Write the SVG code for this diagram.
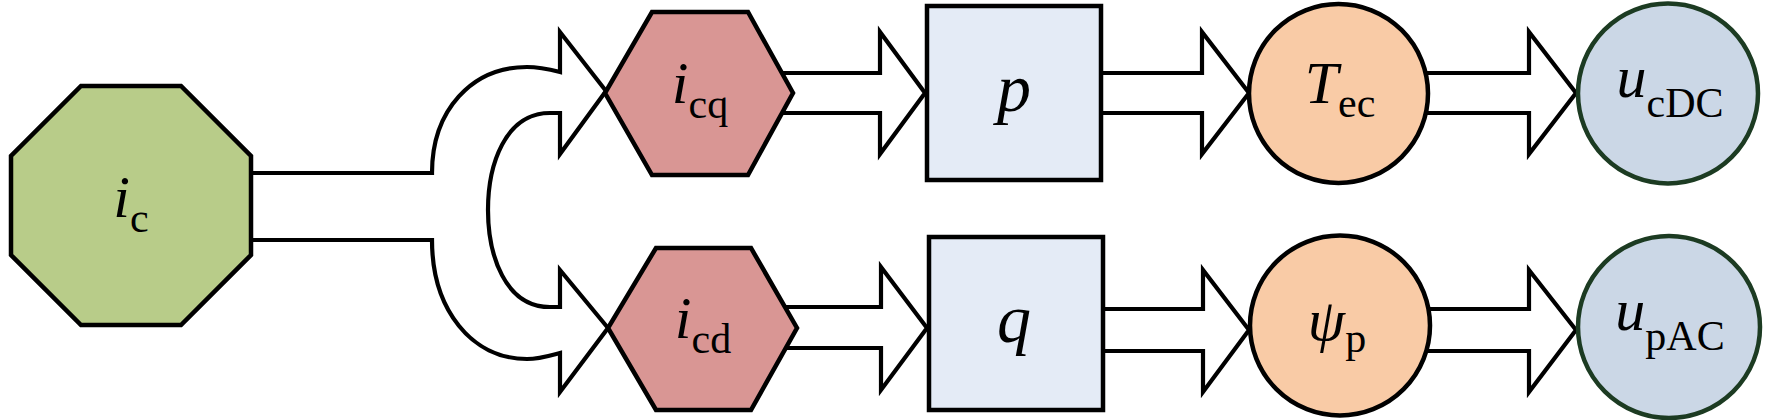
<svg xmlns="http://www.w3.org/2000/svg" width="1772" height="420" viewBox="0 0 1772 420">
<style>
.conn{fill:#ffffff;stroke:#000000;stroke-width:4.2;stroke-linejoin:miter}
.node{stroke:#000000;stroke-width:4.5;stroke-linejoin:miter}
.oct{fill:#b8cc89}
.hex{fill:#d99694}
.box{fill:#e4ebf6}
.org{fill:#f9cba6}
.blu{fill:#cbd7e6;stroke:#1c3b22}
.lbl{font-family:"Liberation Serif","Times New Roman",serif;font-size:60px;fill:#000000;text-anchor:middle}
.big{font-size:68px}
.m{font-style:italic}
.s{font-size:42px;font-style:normal}
</style>
<rect x="0" y="0" width="1772" height="420" fill="#ffffff"/>
<g id="connectors">
<path class="conn" d="M251,173 L432,173 C432,110 472,67 527,67 C540,67 552,70 560,72 L560,32 L606,91 L560,154 L560,113 L550,113 C505,113 488,165 488,210 C488,255 505,307 550,307 L560,307 L560,270 L608,328 L560,392 L560,353 C552,355 540,359 527,359 C472,359 432,310 432,240 L251,240"/>
<path class="conn" d="M782,73 L880,73 L880,32 L925,93 L880,154 L880,113 L782,113"/>
<path class="conn" d="M1101,73 L1202,73 L1202,32 L1249,93 L1202,154 L1202,113 L1101,113"/>
<path class="conn" d="M1425,73 L1529,73 L1529,32 L1576,93 L1529,154 L1529,113 L1425,113"/>
<path class="conn" d="M785,307 L881,307 L881,267 L927,328 L881,390 L881,348 L785,348"/>
<path class="conn" d="M1103,309 L1203,309 L1203,270 L1249,330 L1203,392 L1203,351 L1103,351"/>
<path class="conn" d="M1427,309 L1529,309 L1529,270 L1576,330 L1529,392 L1529,351 L1427,351"/>
</g>
<g id="node-ic">
<polygon class="node oct" points="81,86 181,86 251,156 251,255 181,325 81,325 11,255 11,156"/>
<text class="lbl" x="131" y="217"><tspan class="m">i</tspan><tspan class="s" dy="15">c</tspan></text>
</g>
<g id="node-icq">
<polygon class="node hex" points="652,12 748,12 793,93 748,175 652,175 605,93"/>
<text class="lbl" x="700" y="103"><tspan class="m">i</tspan><tspan class="s" dy="15">cq</tspan></text>
</g>
<g id="node-icd">
<polygon class="node hex" points="656,248 751,248 797,328 751,410 656,410 608,328"/>
<text class="lbl" x="703" y="338"><tspan class="m">i</tspan><tspan class="s" dy="15">cd</tspan></text>
</g>
<g id="node-p">
<rect class="node box" x="927" y="6" width="174" height="174"/>
<text class="lbl big" x="1014" y="111"><tspan class="m">p</tspan></text>
</g>
<g id="node-q">
<rect class="node box" x="929" y="237" width="174" height="173"/>
<text class="lbl big" x="1014" y="342"><tspan class="m">q</tspan></text>
</g>
<g id="node-tec">
<circle class="node org" cx="1338.5" cy="93.5" r="89.5"/>
<text class="lbl" x="1340" y="103"><tspan class="m">T</tspan><tspan class="s" dy="14">ec</tspan></text>
</g>
<g id="node-psip">
<circle class="node org" cx="1340" cy="325.5" r="90"/>
<text class="lbl" x="1337" y="340"><tspan class="m">ψ</tspan><tspan class="s" dy="12">p</tspan></text>
</g>
<g id="node-ucdc">
<circle class="node blu" cx="1668" cy="93.5" r="90"/>
<text class="lbl" x="1670" y="97"><tspan class="m">u</tspan><tspan class="s" dy="20">cDC</tspan></text>
</g>
<g id="node-upac">
<circle class="node blu" cx="1669" cy="327" r="91"/>
<text class="lbl" x="1670" y="330"><tspan class="m">u</tspan><tspan class="s" dy="20">pAC</tspan></text>
</g>
</svg>
